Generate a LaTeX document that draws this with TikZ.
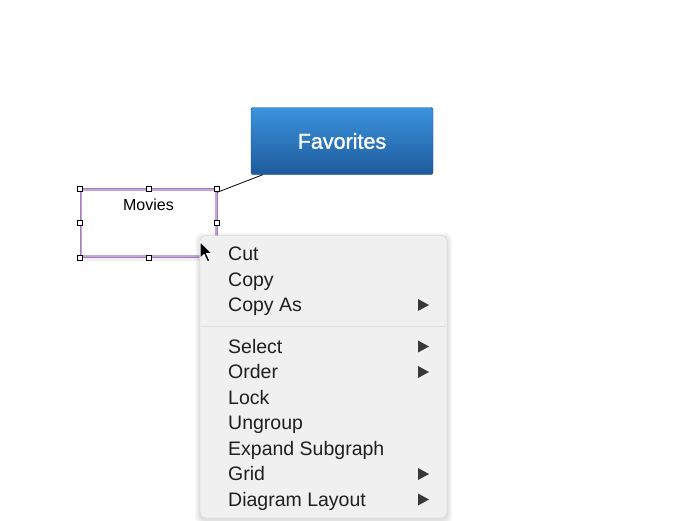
\documentclass[tikz,border=0pt]{standalone}
\usepackage{fontspec}
\setmainfont{Liberation Sans}
\usetikzlibrary{positioning}
\definecolor{favtop}{HTML}{3B93DE}
\definecolor{favbot}{HTML}{1E5A9C}
\definecolor{favedge}{HTML}{1A4C86}
\definecolor{selpurple}{HTML}{C6A6D6}
\definecolor{selinner}{HTML}{A47CBB}
\definecolor{menufill}{HTML}{F0F0F0}
\definecolor{menuedge}{HTML}{D2D2D2}
\begin{document}
\begin{tikzpicture}[x=1pt,y=-1pt,
  handle/.style={draw=black,fill=white,line width=0.6pt,minimum size=5pt,inner sep=0pt},
  item/.style={anchor=base west,inner sep=0pt,text=black!88,font=\fontsize{19.5}{22}\selectfont}]
  \useasboundingbox[fill=white] (0,0) rectangle (700,520);
  % the two shapes
  \node[draw=favedge,rounded corners=2pt,top color=favtop,bottom color=favbot,
        minimum width=182pt,minimum height=67pt,text=white,
        font=\fontsize{21.5}{24}\selectfont\addfontfeature{FakeBold=1.3}] (fav) at (342,141) {Favorites};
  \fill[black,opacity=0.06] (83,258) rectangle (218,260.5);
  \node[draw=selpurple,line width=2.4pt,fill=white,minimum width=135pt,minimum height=67pt] (movies) at (148.5,223) {};
  \draw[selinner,line width=0.5pt] (movies.north west) rectangle (movies.south east);
  \node[anchor=base,inner sep=0pt,font=\fontsize{16}{19}\selectfont] (movtext) at (148.5,210.7) {Movies};
  \draw[line width=0.8pt] ([yshift=-4pt]movies.north east) -- ([xshift=12pt]fav.south west);
  \foreach \a in {north west,north,north east,west,east,south west,south,south east}
    \node[handle] at (movies.\a) {};
  % context menu
  \foreach \s in {1,...,5}
    \fill[black,opacity=0.025,rounded corners=7pt] (200-\s,235.5-\s+2) rectangle (447+\s,518+\s+2);
  \node[draw=menuedge,fill=menufill,rounded corners=6pt,minimum width=247pt,minimum height=282.5pt] (menu) at (323.5,376.75) {};
  \draw[black!13,line width=1.2pt] (201,326.5) -- (446,326.5);
  \foreach \y/\t/\n in {260.5/Cut/cut, 286/Copy/copy, 311.5/Copy As/copyas,
      353/Select/select, 378.5/Order/order, 404/Lock/lock, 429.5/Ungroup/ungroup,
      455/Expand Subgraph/expand, 480.5/Grid/grid, 506/Diagram Layout/layout}
    \node[item] (\n) at (228,\y) {\t};
  \foreach \y in {311.5,353,378.5,480.5,506}
    \fill[black!78] (418,\y-12.5) -- (429,\y-6.5) -- (418,\y-0.5) -- cycle;
  % pointer
  \filldraw[fill=black,draw=white,line width=1pt,line join=round]
    (200,241.5) -- ++(0,17) -- ++(4,-4) -- ++(3.5,7.5) -- ++(2.5,-1.2) -- ++(-3.5,-7.3) -- ++(5.5,0) -- cycle;
\end{tikzpicture}
\end{document}
